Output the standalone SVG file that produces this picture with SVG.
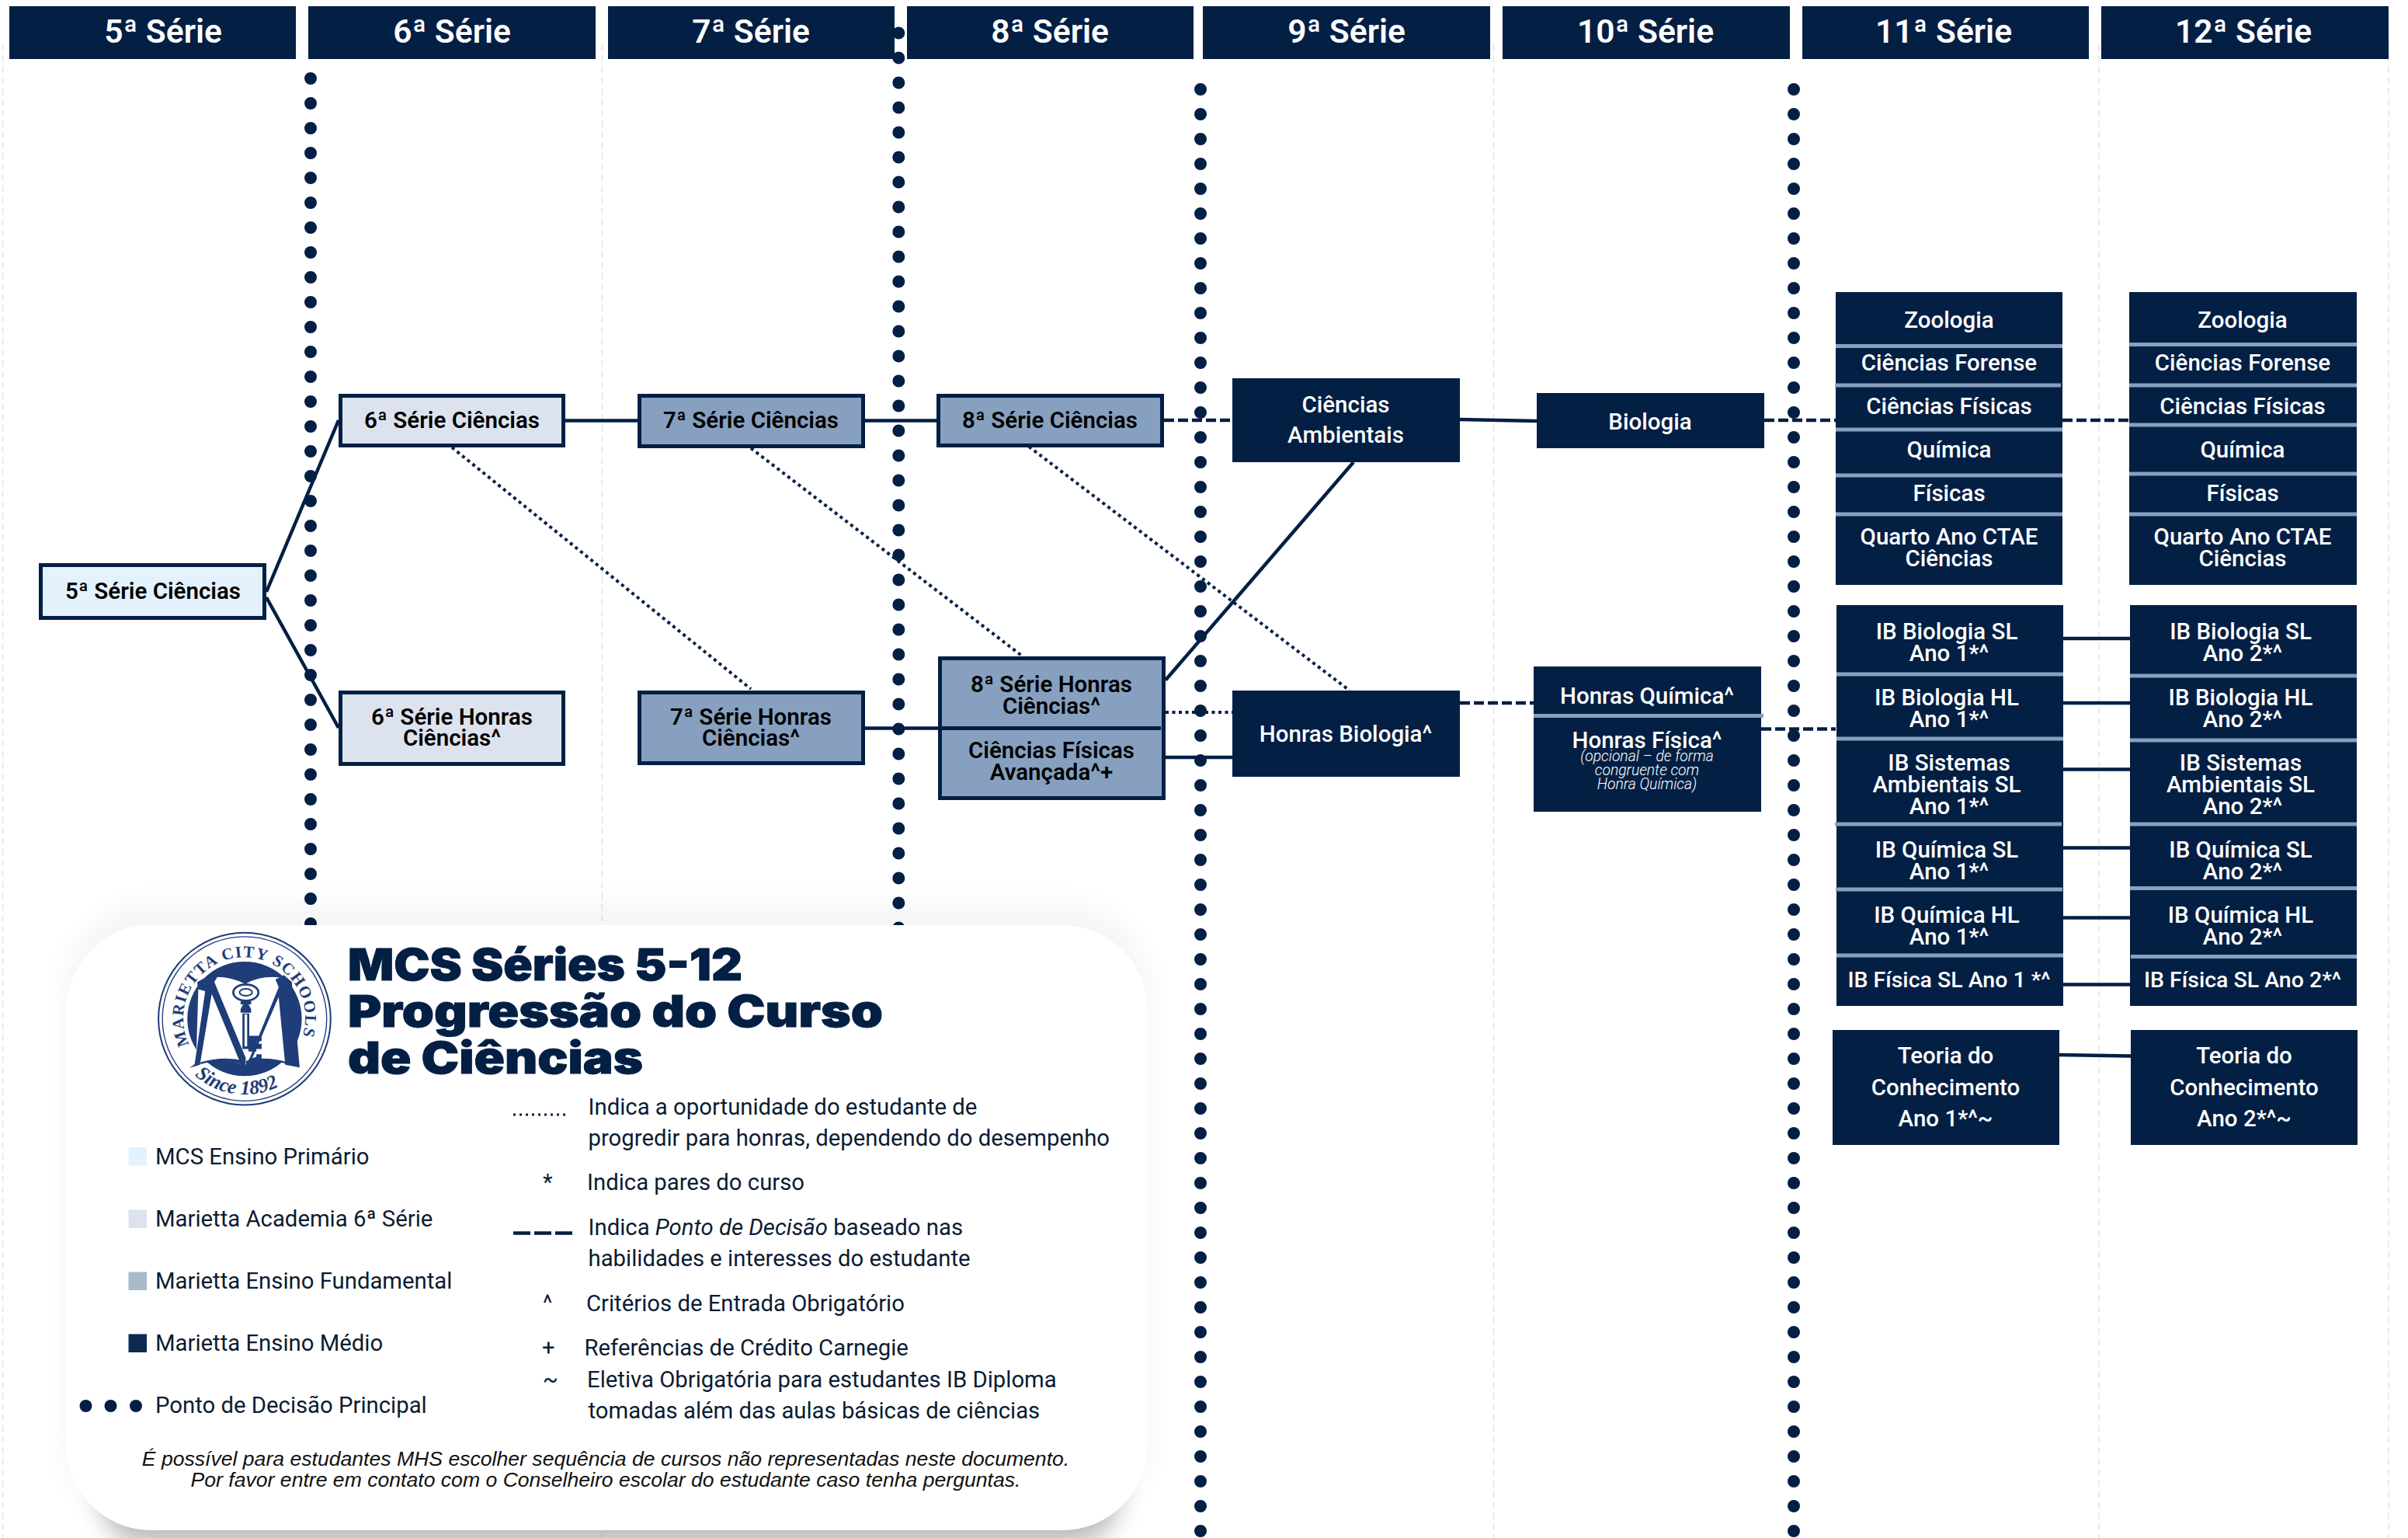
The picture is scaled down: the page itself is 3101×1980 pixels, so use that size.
<svg xmlns="http://www.w3.org/2000/svg" width="3101" height="1980" viewBox="0 0 3101 1980">
<style>
text{font-family:Roboto,"Liberation Sans",sans-serif;text-anchor:middle}
.hd rect{fill:#041f44}
.hd text{font-size:42.500px;font-weight:600;fill:#fff}
.n{font-size:29.500px;font-weight:600;fill:#000}
.w{font-size:29.500px;font-weight:500;fill:#fff}
.dk{fill:#041f44}
.lb{fill:#dce3ee;stroke:#041f44;stroke-width:5}
.lp{fill:#e3f2fd;stroke:#041f44;stroke-width:5}
.md{fill:#87a0bf;stroke:#041f44;stroke-width:5}
.dv{stroke:#87a0bf;stroke-width:5}
.c{fill:none;stroke:#041f44;stroke-width:4.5}
.dash{stroke-dasharray:13 5}
.dot{stroke-width:4;stroke-dasharray:4 4.5}
.dots{fill:none;stroke:#041f44;stroke-width:16;stroke-linecap:round;stroke-dasharray:0 32}
.g{fill:none;stroke:#dfe4ef;stroke-width:1.5;stroke-dasharray:9 5}
.l{font-size:29.300px;fill:#0b1c33;text-anchor:start;transform:translateY(-1.500px)}
.t{font-family:Inter,"Open Sans",sans-serif;font-weight:900;font-size:57px;fill:#041f44;text-anchor:start;stroke:#041f44;stroke-width:1}
.f{font-family:"Liberation Sans",sans-serif;font-style:italic;font-size:26.600px;fill:#111;transform:translateY(-1px)}
.seal{fill:#1f3d78}
.sl{font-family:"Liberation Serif",serif;fill:#1f3d78;font-weight:700}
</style>
<defs>
<filter id="sh" x="-10%" y="-40%" width="120%" height="180%"><feGaussianBlur stdDeviation="16"/></filter>
<path id="arcTop" d="M130 443A232 232 0 1 1 553 432"/>
<path id="arcBot" d="M150 560A285 285 0 0 0 525 566"/>
</defs>
<rect width="3101" height="1980" fill="#fff"/>
<g id="guides">
<path class="g" d="M3.5 57V1980M775.5 57V1980M1923.5 57V1980M2703 57V1980M3076 57V1980"/>
</g>
<g id="headers" class="hd">
<rect x="12" y="8" width="369" height="68"/><text x="210" y="55">5ª Série</text>
<rect x="397" y="8" width="370" height="68"/><text x="582" y="55">6ª Série</text>
<rect x="783" y="8" width="369" height="68"/><text x="967" y="55">7ª Série</text>
<rect x="1168" y="8" width="369" height="68"/><text x="1352" y="55">8ª Série</text>
<rect x="1549" y="8" width="370" height="68"/><text x="1734" y="55">9ª Série</text>
<rect x="1935" y="8" width="370" height="68"/><text x="2119" y="55">10ª Série</text>
<rect x="2321" y="8" width="369" height="68"/><text x="2503" y="55">11ª Série</text>
<rect x="2706" y="8" width="370" height="68"/><text x="2889" y="55">12ª Série</text>
</g>
<g id="decision-lines">
<path class="dots" d="M400 101V1215M1157.3 42.5V1215M1546 115V1990M2310 115V1990"/>
</g>
<g id="connectors">
<path class="c" d="M343 762L436 541M343 769L436 937M728 541.5H821M1114 541.5H1206M1880 540L1979 542M1114 937.5H1208M1501 875.5L1743 595M1501 975H1587"/>
<path class="c" d="M2657 822H2743M2657 905H2743M2657 990.5H2743M2657 1091.5H2743M2657 1181.5H2743M2657 1267.5H2743M2652 1358L2744 1359.5"/>
<path class="c dash" d="M1499 541H1587M2272 541H2364M2656 541H2742M1880 905H1975M2268 938.5H2364"/>
<path class="c dot" d="M582 576L967 887M967 577L1317 845M1325 575L1738 889M1501 917H1587"/>
</g>
<g id="n5"><rect class="lp" x="52.500" y="727.500" width="288" height="68"/><text class="n" x="197" y="771">5ª Série Ciências</text></g>
<g id="n6"><rect class="lb" x="438.500" y="509.500" width="287" height="64"/><text class="n" x="582" y="551">6ª Série Ciências</text></g>
<g id="n6h"><rect class="lb" x="438.500" y="891.500" width="287" height="92"/><text class="n" x="582" y="933">6ª Série Honras</text><text class="n" x="582" y="960">Ciências^</text></g>
<g id="n7"><rect class="md" x="823.500" y="509.500" width="288" height="65"/><text class="n" x="967" y="551">7ª Série Ciências</text></g>
<g id="n7h"><rect class="md" x="823.500" y="891.500" width="288" height="91"/><text class="n" x="967" y="933">7ª Série Honras</text><text class="n" x="967" y="960">Ciências^</text></g>
<g id="n8"><rect class="md" x="1208.500" y="509.500" width="288" height="64"/><text class="n" x="1352" y="551">8ª Série Ciências</text></g>
<g id="n8h"><rect class="md" x="1210.500" y="847.500" width="288" height="180"/><path d="M1208 937.500H1495" stroke="#041f44" stroke-width="5"/><text class="n" x="1354" y="891">8ª Série Honras</text><text class="n" x="1354" y="919">Ciências^</text><text class="n" x="1354" y="976">Ciências Físicas</text><text class="n" x="1354" y="1004">Avançada^+</text></g>
<g id="n9a"><rect class="dk" x="1587" y="487" width="293" height="108"/><text class="w" x="1733" y="531">Ciências</text><text class="w" x="1733" y="570">Ambientais</text></g>
<g id="n9h"><rect class="dk" x="1587" y="889" width="293" height="111"/><text class="w" x="1733" y="955">Honras Biologia^</text></g>
<g id="n10"><rect class="dk" x="1979" y="506" width="293" height="71"/><text class="w" x="2125" y="553">Biologia</text></g>
<g id="n10h"><rect class="dk" x="1975" y="858" width="293" height="187"/><path class="dv" d="M1975 921.500H2271"/><text class="w" x="2121" y="906">Honras Química^</text><text class="w" x="2121" y="963">Honras Física^</text><g style="font-size:19.300px;font-style:italic;font-weight:300"><text fill="#fff" x="2121" y="980">(opcional – de forma</text><text fill="#fff" x="2121" y="998">congruente com</text><text fill="#fff" x="2121" y="1016">Honra Química)</text></g></g>
<g id="s11"><rect class="dk" x="2364" y="376" width="292" height="377"/><path class="dv" d="M2364 445.500H2656M2363 496H2654M2364 553H2656M2364 612H2656M2364 662H2656"/>
<text class="w" x="2510" y="422">Zoologia</text><text class="w" x="2510" y="477">Ciências Forense</text><text class="w" x="2510" y="533">Ciências Físicas</text><text class="w" x="2510" y="589">Química</text><text class="w" x="2510" y="645">Físicas</text><text class="w" x="2510" y="701">Quarto Ano CTAE</text><text class="w" x="2510" y="729">Ciências</text></g>
<g id="s12"><rect class="dk" x="2742" y="376" width="293" height="377"/><path class="dv" d="M2742 443.500H3035M2742 496H3035M2742 547H3035M2742 610H3035M2742 662H3035"/>
<text class="w" x="2888" y="422">Zoologia</text><text class="w" x="2888" y="477">Ciências Forense</text><text class="w" x="2888" y="533">Ciências Físicas</text><text class="w" x="2888" y="589">Química</text><text class="w" x="2888" y="645">Físicas</text><text class="w" x="2888" y="701">Quarto Ano CTAE</text><text class="w" x="2888" y="729">Ciências</text></g>
<g id="ib11"><rect class="dk" x="2365" y="779" width="292" height="516"/><path class="dv" d="M2365 868H2657M2365 951H2657M2363 1061H2655M2364 1145H2656M2365 1230H2657"/>
<text class="w" x="2507" y="823">IB Biologia SL</text><text class="w" x="2510" y="851">Ano 1*^</text><text class="w" x="2507" y="908">IB Biologia HL</text><text class="w" x="2510" y="936">Ano 1*^</text><text class="w" x="2510" y="992">IB Sistemas</text><text class="w" x="2507" y="1020">Ambientais SL</text><text class="w" x="2510" y="1048">Ano 1*^</text><text class="w" x="2507" y="1104">IB Química SL</text><text class="w" x="2510" y="1132">Ano 1*^</text><text class="w" x="2507" y="1188">IB Química HL</text><text class="w" x="2510" y="1216">Ano 1*^</text><text class="w" x="2510" y="1271" style="font-size:28.500px">IB Física SL Ano 1 *^</text></g>
<g id="ib12"><rect class="dk" x="2743" y="779" width="292" height="516"/><path class="dv" d="M2743 870H3035M2743 953H3035M2743 1061H3035M2743 1143.500H3035M2744 1231.500H3035"/>
<text class="w" x="2885.500" y="823">IB Biologia SL</text><text class="w" x="2888" y="851">Ano 2*^</text><text class="w" x="2885.500" y="908">IB Biologia HL</text><text class="w" x="2888" y="936">Ano 2*^</text><text class="w" x="2885.500" y="992">IB Sistemas</text><text class="w" x="2885.500" y="1020">Ambientais SL</text><text class="w" x="2888" y="1048">Ano 2*^</text><text class="w" x="2885.500" y="1104">IB Química SL</text><text class="w" x="2888" y="1132">Ano 2*^</text><text class="w" x="2885.500" y="1188">IB Química HL</text><text class="w" x="2888" y="1216">Ano 2*^</text><text class="w" x="2888" y="1271" style="font-size:28.500px">IB Física SL Ano 2*^</text></g>
<g id="tok1"><rect class="dk" x="2360" y="1326" width="292" height="148"/><text class="w" x="2505.500" y="1369">Teoria do</text><text class="w" x="2505.500" y="1410">Conhecimento</text><text class="w" x="2505.500" y="1450">Ano 1*^~</text></g>
<g id="tok2"><rect class="dk" x="2744" y="1326" width="292" height="148"/><text class="w" x="2890" y="1369">Teoria do</text><text class="w" x="2890" y="1410">Conhecimento</text><text class="w" x="2890" y="1450">Ano 2*^~</text></g>
<g id="legend">
<rect x="80" y="1160" width="1404" height="812" rx="120" fill="#000" opacity=".035" filter="url(#sh)"/>
<rect x="130" y="1850" width="1310" height="140" rx="60" fill="#000" opacity=".25" filter="url(#sh)"/>
<rect x="85" y="1191" width="1393" height="779" rx="110" fill="#fff"/>
<g id="seal" transform="translate(200 1195) scale(.338)">
<circle cx="340" cy="345" r="328" fill="#fff" stroke="#1f3d78" stroke-width="6"/>
<circle cx="340" cy="345" r="313" fill="none" stroke="#1f3d78" stroke-width="4"/>
<circle class="seal" cx="340" cy="345" r="218"/>
<text class="sl" font-size="62" style="text-anchor:start"><textPath href="#arcTop" textLength="900" lengthAdjust="spacing">MARIETTA CITY SCHOOLS</textPath></text>
<text class="sl" font-size="76" font-style="italic" style="text-anchor:start"><textPath href="#arcBot">Since 1892</textPath></text>
<path fill="#fff" d="M165 195Q260 170 342 212Q420 170 515 195L530 518Q430 490 340 520Q250 490 155 518Z"/>
<path class="seal" d="M160 205L205 180 240 180 225 205 345 495 340 540 345 530 470 225 458 195 490 178 520 205 550 530 495 520 470 262 350 540 335 540 215 250 170 520 130 532 150 518 190 240 162 232Z"/>
<path class="seal" d="M172 510Q260 485 340 505V520Q260 495 172 518ZM505 510Q420 485 345 505V520Q420 495 505 518Z"/>
<ellipse cx="345" cy="245" rx="48" ry="31" fill="#fff" stroke="#1f3d78" stroke-width="8"/>
<ellipse cx="345" cy="244" rx="24" ry="13" fill="none" stroke="#1f3d78" stroke-width="6"/>
<path class="seal" d="M325 278H365V290H355L365 308V322H325V308L335 290H325ZM332 325H358V460H332Z"/>
<path fill="#fff" d="M340 328H350V450H340Z"/>
<path class="seal" d="M355 410H405V430H385V440H405V460H385V480H405V525H355V500L385 490V470H355Z"/>
</g>
<g id="title">
<text class="t" x="448" y="1262" textLength="508" lengthAdjust="spacingAndGlyphs">MCS Séries 5-12</text>
<text class="t" x="448" y="1322" textLength="689" lengthAdjust="spacingAndGlyphs">Progressão do Curso</text>
<text class="t" x="448" y="1381.500" textLength="380" lengthAdjust="spacingAndGlyphs">de Ciências</text>
</g>
<rect x="165.500" y="1477" width="23.500" height="23.500" fill="#e3f2fd"/><text class="l" x="200" y="1500">MCS Ensino Primário</text>
<rect x="165.500" y="1557.500" width="23.500" height="23.500" fill="#dce3ee"/><text class="l" x="200" y="1580.500">Marietta Academia 6ª Série</text>
<rect x="165.500" y="1637.500" width="23.500" height="23.500" fill="#a9bac9"/><text class="l" x="200" y="1660.500">Marietta Ensino Fundamental</text>
<rect x="165.500" y="1717.500" width="23.500" height="23.500" fill="#0c2a52"/><text class="l" x="200" y="1740">Marietta Ensino Médio</text>
<circle cx="110.500" cy="1810" r="8" class="dk"/><circle cx="142.500" cy="1810" r="8" class="dk"/><circle cx="175" cy="1810" r="8" class="dk"/><text class="l" x="200" y="1820">Ponto de Decisão Principal</text>
<path d="M661 1435H730" stroke="#041f44" stroke-width="3" stroke-dasharray="3 5"/>
<path d="M661 1587.500H737" stroke="#041f44" stroke-width="4.500" stroke-dasharray="22 5"/>
<text class="l" x="757.500" y="1436.500">Indica a oportunidade do estudante de</text>
<text class="l" x="757.500" y="1476">progredir para honras, dependendo do desempenho</text>
<text class="l" x="699" y="1533">*</text><text class="l" x="756" y="1533">Indica pares do curso</text>
<text class="l" x="757.500" y="1591">Indica <tspan font-style="italic">Ponto de Decisão</tspan> baseado nas</text>
<text class="l" x="757.500" y="1631">habilidades e interesses do estudante</text>
<text class="l" x="699" y="1689">^</text><text class="l" x="755" y="1689">Critérios de Entrada Obrigatório</text>
<text class="l" x="698" y="1746">+</text><text class="l" x="752.500" y="1746">Referências de Crédito Carnegie</text>
<text class="l" x="699" y="1787">~</text><text class="l" x="756" y="1787">Eletiva Obrigatória para estudantes IB Diploma</text>
<text class="l" x="757.500" y="1827">tomadas além das aulas básicas de ciências</text>
<text class="f" x="780" y="1888">É possível para estudantes MHS escolher sequência de cursos não representadas neste documento.</text>
<text class="f" x="780" y="1915">Por favor entre em contato com o Conselheiro escolar do estudante caso tenha perguntas.</text>
</g>
</svg>
